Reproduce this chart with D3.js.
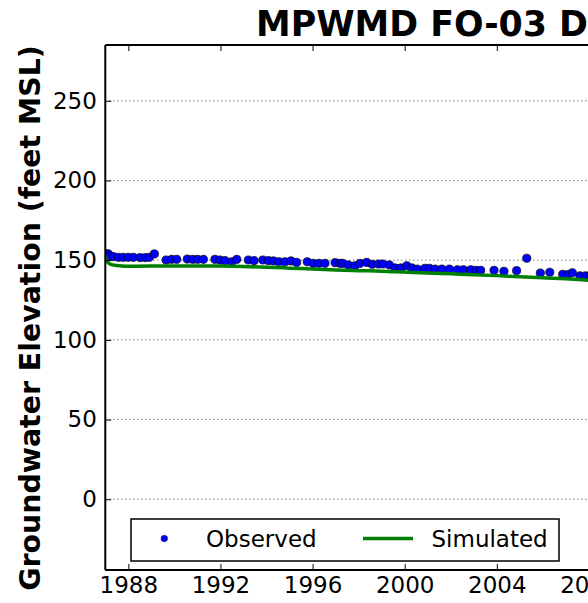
<!DOCTYPE html>
<html><head><meta charset="utf-8">
<script src="https://cdn.jsdelivr.net/npm/d3@7"></script>
<style>
html,body{margin:0;padding:0;background:#fff;overflow:hidden;}
text{font-family:"DejaVu Sans",sans-serif;}
</style></head>
<body>
<script>
const obsYears = [1987.05,1987.13,1987.22,1987.35,1987.57,1987.78,1988.00,1988.22,1988.51,1988.73,1988.91,1989.13,1989.64,1989.88,1990.10,1990.56,1990.80,1991.01,1991.26,1991.76,1991.98,1992.20,1992.49,1992.71,1993.21,1993.46,1993.84,1994.08,1994.30,1994.54,1994.80,1995.06,1995.31,1995.77,1996.03,1996.28,1996.54,1996.98,1997.19,1997.31,1997.55,1997.84,1998.06,1998.35,1998.59,1998.86,1999.05,1999.33,1999.58,1999.84,2000.09,2000.31,2000.55,2000.88,2001.07,2001.32,2001.61,2001.94,2002.29,2002.55,2002.87,2003.10,2003.30,2003.88,2004.31,2004.86,2005.30,2005.89,2006.30,2006.86,2007.08,2007.28,2007.61,2007.86,2008.05];
const obsValues = [154.0,153.9,152.5,152.2,151.8,151.8,151.8,151.8,151.6,151.6,151.8,153.9,150.1,150.5,150.5,150.7,150.5,150.5,150.5,150.5,150.1,149.7,149.0,150.5,150.1,149.7,150.1,149.7,149.5,149.0,149.0,149.5,148.6,149.0,148.0,148.0,148.0,148.4,148.0,148.0,147.0,146.5,148.0,148.6,147.4,147.6,147.6,147.0,145.1,145.1,146.5,145.1,144.4,144.9,144.9,144.4,144.4,144.4,144.0,144.0,144.0,143.6,143.6,143.6,143.0,143.4,151.2,141.9,142.4,141.1,140.9,142.1,140.2,140.2,140.2];
const simYears = [1987.0,1987.08,1987.2,1987.4,1987.7,1988.0,1989.0,1990.0,1991.0,1992.0,1993.0,1994.0,1995.0,1996.0,1997.0,1998.0,1999.0,2000.0,2001.0,2002.0,2003.0,2004.0,2005.0,2006.0,2007.0,2008.0,2009.0];
const simValues = [153.0,149.5,147.6,146.8,146.4,146.2,146.3,146.4,146.4,146.3,146.0,145.6,145.0,144.4,143.8,143.4,143.1,142.5,141.9,141.4,140.9,140.3,139.6,139.0,138.3,137.4,136.5];
const yTicks = [0,50,100,150,200,250];
const xTicks = [1988,1992,1996,2000,2004,2008];
const seriesNames = ["Observed","Simulated"];
const titleText = "MPWMD FO-03 Deep";
const yLabel = "Groundwater Elevation (feet MSL)";

const W=588,H=603;
const L=105.3, T=45, B=570;
const pxPerYear=23.03;
const x=d3.scaleLinear().domain([1987,2012]).range([L, L+25*pxPerYear]);
const y=d3.scaleLinear().domain([-44.4,285]).range([B,T]);
const R=x(2012);

const svg=d3.select("body").append("svg").attr("width",W).attr("height",H);
svg.append("defs").append("clipPath").attr("id","pc").append("rect")
  .attr("x",L).attr("y",T).attr("width",R-L).attr("height",B-T);

// grid
svg.append("g").selectAll("line").data(yTicks).join("line")
  .attr("x1",L).attr("x2",R).attr("y1",d=>y(d)).attr("y2",d=>y(d))
  .attr("stroke","#444").attr("stroke-width",1).attr("stroke-dasharray","1,3");

const plot=svg.append("g").attr("clip-path","url(#pc)");
// observed
plot.selectAll("circle").data(obsYears.map((t,i)=>[t,obsValues[i]])).join("circle")
  .attr("cx",d=>x(d[0])).attr("cy",d=>y(d[1])).attr("r",4.1)
  .attr("fill","#0000ff").attr("stroke","#000").attr("stroke-width",0.7);
// simulated
plot.append("path").datum(simYears.map((t,i)=>[t,simValues[i]]))
  .attr("d",d3.line().x(d=>x(d[0])).y(d=>y(d[1])).curve(d3.curveMonotoneX))
  .attr("fill","none").attr("stroke","#008000").attr("stroke-width",3.5);

// axes
const ax=svg.append("g");
const yAxis=d3.axisLeft(y).tickValues(yTicks).tickSize(-6).tickPadding(8.5).tickFormat(d3.format("d"));
ax.append("g").attr("transform",`translate(${L},0)`).call(yAxis)
  .call(g=>{g.select(".domain").remove();g.selectAll("text").attr("font-size",23).attr("font-family","DejaVu Sans").attr("fill","#000");g.selectAll("line").attr("stroke","#000");});
const xAxis=d3.axisBottom(x).tickValues(xTicks).tickSize(-6).tickPadding(7).tickFormat(d3.format("d"));
ax.append("g").attr("transform",`translate(0,${B})`).call(xAxis)
  .call(g=>{g.select(".domain").remove();g.selectAll("text").attr("font-size",23).attr("font-family","DejaVu Sans").attr("fill","#000");g.selectAll("line").attr("stroke","#000");});
const xTop=d3.axisTop(x).tickValues(xTicks).tickSize(-6).tickFormat("");
ax.append("g").attr("transform",`translate(0,${T})`).call(xTop)
  .call(g=>{g.select(".domain").remove();g.selectAll("line").attr("stroke","#000");});

// spines
svg.append("line").attr("x1",L).attr("x2",L).attr("y1",T).attr("y2",B).attr("stroke","#000").attr("stroke-width",2);
svg.append("line").attr("x1",L).attr("x2",R).attr("y1",T).attr("y2",T).attr("stroke","#000").attr("stroke-width",2);
svg.append("line").attr("x1",L).attr("x2",R).attr("y1",B).attr("y2",B).attr("stroke","#000").attr("stroke-width",2);

// title
svg.append("text").attr("x",256).attr("y",36).attr("font-size",34.8).attr("font-weight","bold").text(titleText);
// y label
svg.append("text").attr("transform","translate(40,318) rotate(-90)").attr("text-anchor","middle")
  .attr("font-size",28.4).attr("font-weight","bold").text(yLabel);

// legend
const lg=svg.append("g");
lg.append("rect").attr("x",131).attr("y",519).attr("width",428).attr("height",42)
  .attr("fill","#fff").attr("stroke","#000").attr("stroke-width",1.5);
lg.append("circle").attr("cx",164.3).attr("cy",538.5).attr("r",3.3).attr("fill","#0000ff").attr("stroke","#000").attr("stroke-width",0.4);
lg.append("text").attr("x",206).attr("y",547).attr("font-size",23).text(seriesNames[0]);
lg.append("line").attr("x1",363).attr("x2",413).attr("y1",538.5).attr("y2",538.5).attr("stroke","#008000").attr("stroke-width",3.5);
lg.append("text").attr("x",431.5).attr("y",547).attr("font-size",23).text(seriesNames[1]);
</script>
</body></html>
